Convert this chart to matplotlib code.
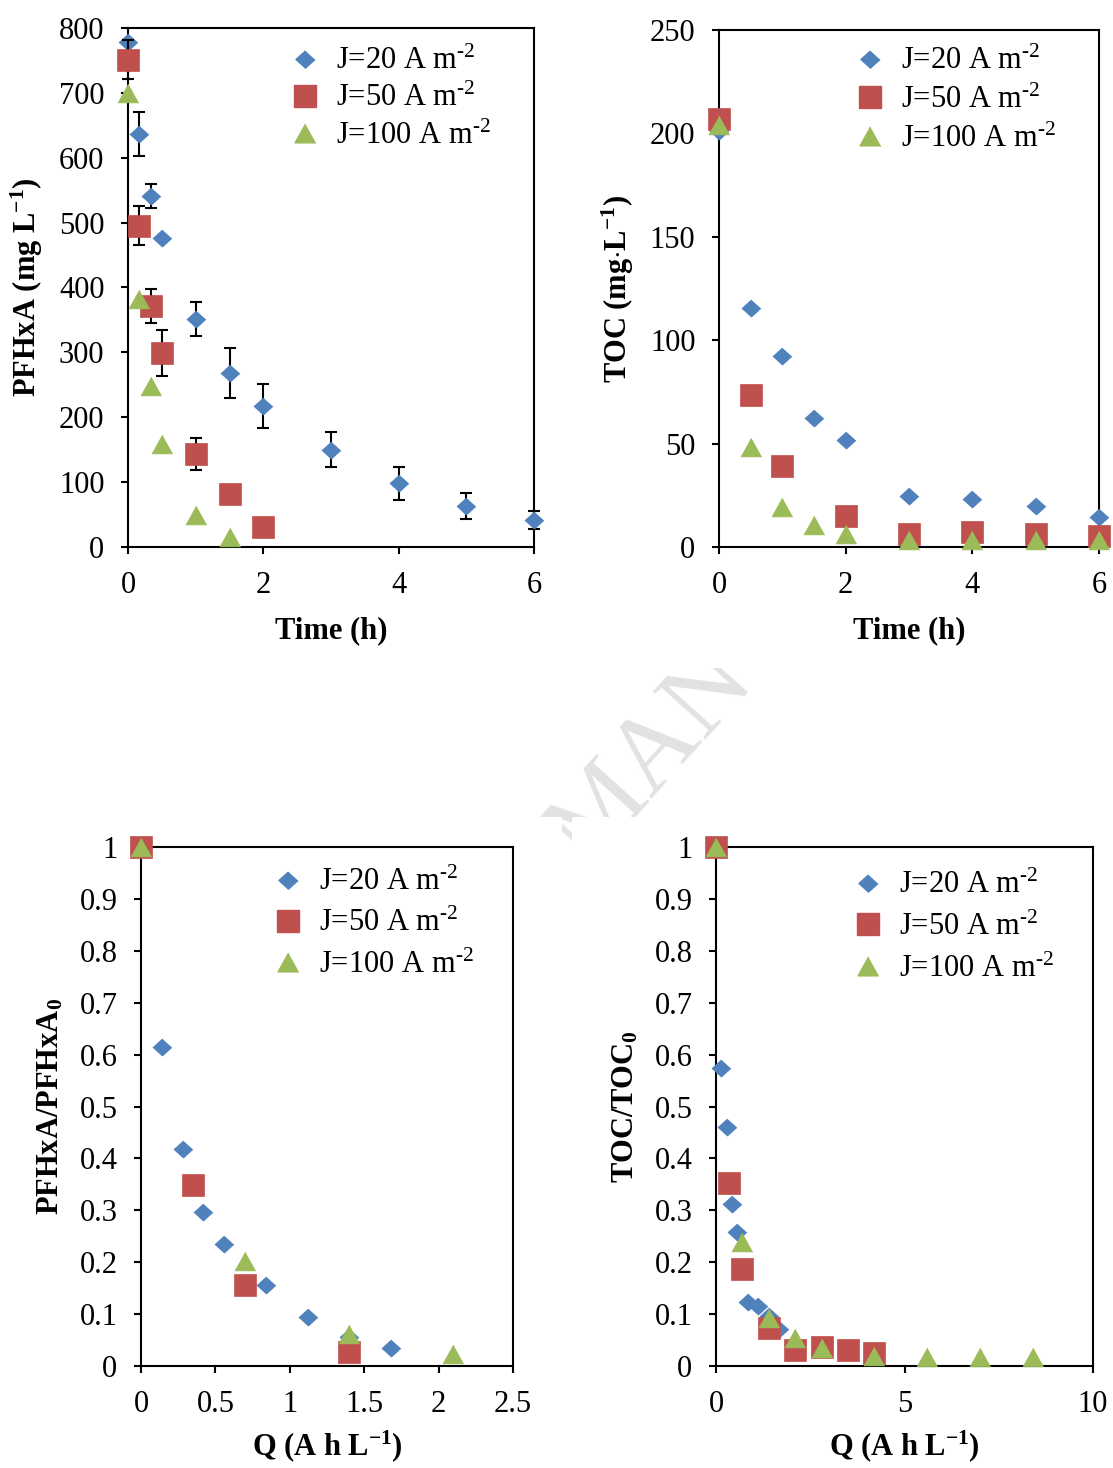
import matplotlib
matplotlib.use('Agg')
import matplotlib.pyplot as plt
from matplotlib.patches import Rectangle
from matplotlib.lines import Line2D
import numpy as np

plt.rcParams['font.family'] = ['Liberation Serif', 'DejaVu Serif']
plt.rcParams['mathtext.fontset'] = 'custom'
plt.rcParams['mathtext.rm'] = 'Liberation Serif'
plt.rcParams['mathtext.it'] = 'Liberation Serif:italic'
plt.rcParams['mathtext.bf'] = 'Liberation Serif:bold'

W, H, DPI = 1113, 1468, 100

series_labels = [r'J=20 A m$^{\text{-2}}$', r'J=50 A m$^{\text{-2}}$', r'J=100 A m$^{\text{-2}}$']

# PFHxA concentration (mg/L) vs time (h)
t20_pf = [0, 0.167, 0.333, 0.5, 1, 1.5, 2, 3, 4, 5, 6]
pf20 = [778, 636, 541, 476, 352, 268, 217, 150, 98, 63, 41]
pf20_err = [0, 34, 19, 0, 26, 38, 34, 27, 26, 20, 14]
t50_pf = [0, 0.167, 0.333, 0.5, 1, 1.5, 2]
pf50 = [751, 495, 371, 299, 143, 81, 31]
pf50_err = [30, 30, 26, 35, 25, 0, 0]
t100_pf = [0, 0.167, 0.333, 0.5, 1, 1.5]
pf100 = [700, 383, 248, 158, 49, 15]

# TOC (mg/L) vs time (h)
t20_toc = [0, 0.5, 1, 1.5, 2, 3, 4, 5, 6]
toc20 = [201, 115.6, 92.6, 62.3, 51.7, 24.6, 23.3, 19.6, 14.5]
t50_toc = [0, 0.5, 1, 2, 3, 4, 5, 6]
toc50 = [207, 73.3, 39.2, 15.0, 6.3, 7.3, 6.3, 5.2]
t100_toc = [0, 0.5, 1, 1.5, 2, 3, 4, 5, 6]
toc100 = [204, 48.5, 19.5, 10.8, 6.3, 3.6, 3.6, 3.6, 3.6]

# Normalised PFHxA vs specific charge Q (A h/L)
q20_pf = [0, 0.14, 0.28, 0.42, 0.56, 0.84, 1.12, 1.40, 1.68]
r20_pf = [1, 0.615, 0.419, 0.296, 0.236, 0.156, 0.094, 0.056, 0.034]
q50_pf = [0, 0.35, 0.70, 1.40]
r50_pf = [1, 0.348, 0.157, 0.027]
q100_pf = [0, 0.70, 1.40, 2.10]
r100_pf = [1, 0.203, 0.062, 0.023]

# Normalised TOC vs specific charge Q (A h/L)
q20_toc = [0, 0.14, 0.28, 0.42, 0.56, 0.84, 1.12, 1.40, 1.68]
r20_toc = [1, 0.575, 0.46, 0.312, 0.258, 0.123, 0.116, 0.097, 0.072]
q50_toc = [0, 0.35, 0.70, 1.40, 2.10, 2.80, 3.50, 4.20]
r50_toc = [1, 0.352, 0.186, 0.073, 0.031, 0.037, 0.031, 0.026]
q100_toc = [0, 0.70, 1.40, 2.10, 2.80, 4.20, 5.60, 7.00, 8.40]
r100_toc = [1, 0.238, 0.093, 0.053, 0.035, 0.020, 0.018, 0.018, 0.018]

BLUE, RED, GREEN = '#4F81BD', '#C0504D', '#9BBB59'
DIAMOND = [(0, 0.9), (-1, 0), (0, -0.9), (1, 0)]
TRIANGLE = [(0, 0.9), (-1, -0.9), (1, -0.9)]
STYLES = [dict(marker=DIAMOND, ms=13.7, color=BLUE),
          dict(marker='s', ms=15.3, color=RED),
          dict(marker=TRIANGLE, ms=15.0, color=GREEN)]

TICK_FS = 22
LABEL_FS = 22
LEG_FS = 22

fig = plt.figure(figsize=(W / DPI, H / DPI), dpi=DPI)


def px_axes(left, right, top, bottom):
    return fig.add_axes([left / W, 1 - bottom / H, (right - left) / W, (bottom - top) / H])


def style_axes(ax, xlim, ylim, xticks, yticks, fmt, xlabel, ylabel, xlabelpad):
    ax.set_xlim(*xlim)
    ax.set_ylim(*ylim)
    ax.set_xticks(xticks)
    ax.set_yticks(yticks)
    ax.set_xticklabels([fmt(v) for v in xticks])
    ax.set_yticklabels([fmt(v) for v in yticks])
    for s in ax.spines.values():
        s.set_linewidth(1.5)
        s.set_color('black')
    ax.tick_params(direction='out', length=5, width=1.5, labelsize=TICK_FS, pad=12)
    ax.set_xlabel(xlabel, fontsize=LABEL_FS, fontweight='bold', labelpad=xlabelpad)
    ax.set_ylabel(ylabel, fontsize=LABEL_FS, fontweight='bold', labelpad=10)


def draw_series(ax, xs, ys, errs=None):
    for i, (x, y) in enumerate(zip(xs, ys)):
        st = STYLES[i]
        if errs is not None and errs[i] is not None:
            e = np.asarray(errs[i], dtype=float)
            m = e > 0
            ax.errorbar(np.asarray(x)[m], np.asarray(y)[m], yerr=e[m], fmt='none',
                        ecolor='black', elinewidth=1.5, capsize=4.5, capthick=1.5,
                        zorder=3 + 2 * i, clip_on=False)
        ax.plot(x, y, linestyle='none', marker=st['marker'], ms=st['ms'],
                color=st['color'], mec=st['color'], mew=0.5,
                zorder=4 + 2 * i, clip_on=False)


def add_legend(ax, x_marker, y_first, pitch_px):
    handles = [Line2D([], [], linestyle='none', marker=s['marker'], ms=s['ms'],
                      color=s['color'], mec=s['color']) for s in STYLES]
    fs_px = LEG_FS * DPI / 72
    hl = 1.0
    x0 = x_marker - hl * fs_px / 2
    top = y_first - 11
    spacing = (pitch_px - 29.5) / fs_px
    return ax.legend(handles, series_labels, loc='upper left',
                     bbox_to_anchor=(x0 / W, 1 - top / H), bbox_transform=fig.transFigure,
                     frameon=False, fontsize=LEG_FS, borderpad=0, borderaxespad=0,
                     handlelength=hl, handletextpad=0.5, labelspacing=spacing,
                     numpoints=1)


def num_fmt(v):
    return '%g' % v


# Top left: PFHxA vs time
ax1 = px_axes(128, 534, 28, 547)
draw_series(ax1, [t20_pf, t50_pf, t100_pf], [pf20, pf50, pf100], [pf20_err, pf50_err, None])
style_axes(ax1, (0, 6), (0, 800), [0, 2, 4, 6], list(range(0, 801, 100)), num_fmt,
           'Time (h)', r'PFHxA (mg L$^{\mathbf{-1}}$)', 12)
add_legend(ax1, 305, 58, 37.5)

# Top right: TOC vs time
ax2 = px_axes(719, 1099, 30, 547)
draw_series(ax2, [t20_toc, t50_toc, t100_toc], [toc20, toc50, toc100])
style_axes(ax2, (0, 6), (0, 250), [0, 2, 4, 6], list(range(0, 251, 50)), num_fmt,
           'Time (h)', r'TOC (mg$\cdot$L$^{\mathbf{-1}}$)', 12)
add_legend(ax2, 870, 58, 39)

# Bottom left: normalised PFHxA vs Q
ax3 = px_axes(141, 513, 847, 1366)
draw_series(ax3, [q20_pf, q50_pf, q100_pf], [r20_pf, r50_pf, r100_pf])
style_axes(ax3, (0, 2.5), (0, 1), [0, 0.5, 1, 1.5, 2, 2.5], [round(0.1 * k, 1) for k in range(11)],
           num_fmt, r'Q (A h L$^{\mathbf{-1}}$)', r'PFHxA/PFHxA$_{\mathbf{0}}$', 7)
add_legend(ax3, 288, 879, 41.5)

# Bottom right: normalised TOC vs Q
ax4 = px_axes(716, 1093, 847, 1366)
draw_series(ax4, [q20_toc, q50_toc, q100_toc], [r20_toc, r50_toc, r100_toc])
style_axes(ax4, (0, 10), (0, 1), [0, 5, 10], [round(0.1 * k, 1) for k in range(11)],
           num_fmt, r'Q (A h L$^{\mathbf{-1}}$)', r'TOC/TOC$_{\mathbf{0}}$', 7)
add_legend(ax4, 868, 882, 42)

# Faint diagonal watermark, visible only in the gap between the panel images
fig.text(652 / W, 1 - 757 / H, 'MAN', fontsize=78, color='#e2e2e2', rotation=48,
         ha='center', va='center', rotation_mode='anchor', zorder=-3)
for (l, r, t, b) in [(0, W, 0, 668), (0, 562, 817, H), (572, W, 817, H)]:
    fig.add_artist(Rectangle((l / W, 1 - b / H), (r - l) / W, (b - t) / H,
                             transform=fig.transFigure, facecolor='white',
                             edgecolor='none', zorder=-2))

fig.savefig('out.png', dpi=DPI)
